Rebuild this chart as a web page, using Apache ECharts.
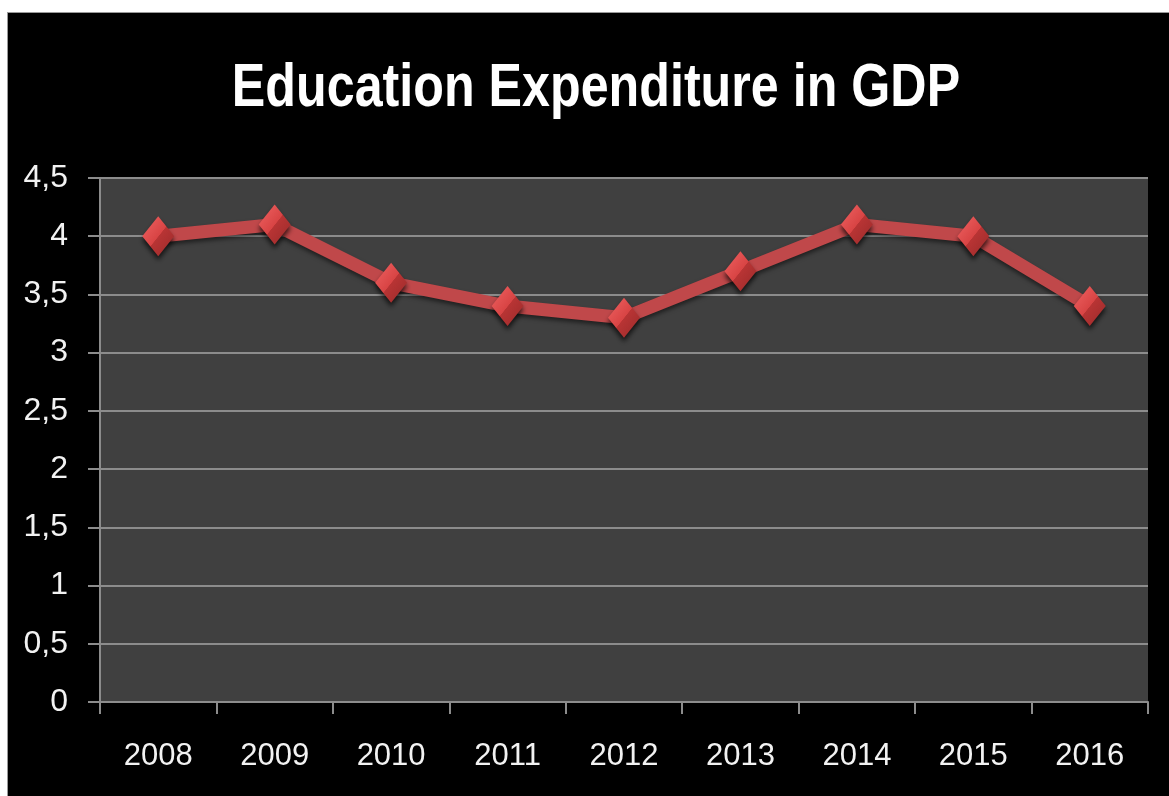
<!DOCTYPE html>
<html>
<head>
<meta charset="utf-8">
<script src="https://cdn.jsdelivr.net/npm/echarts@6/dist/echarts.min.js"></script>
<style>
  html, body { margin: 0; padding: 0; background: #ffffff; }
  #chart {
    position: absolute; left: 7px; top: 12px;
    width: 1162px; height: 784px;
    background: #000000;
    border-left: 1px solid #9a9a9a; border-top: 1px solid #9a9a9a;
  }
</style>
</head>
<body>
<div id="chart"></div>
<script>
// Education expenditure as share of GDP, by year
const years = ['2008', '2009', '2010', '2011', '2012', '2013', '2014', '2015', '2016'];
const expenditure = [4.0, 4.1, 3.6, 3.4, 3.3, 3.7, 4.1, 4.0, 3.4];
const chartTitle = 'Education Expenditure in GDP';

const FONT = '"Liberation Sans", sans-serif';
const chart = echarts.init(document.getElementById('chart'), null, { renderer: 'canvas' });

chart.setOption({
  backgroundColor: '#000000',
  animation: false,
  // condensed bold heading, squeezed horizontally
  graphic: [{
    type: 'text',
    x: 588, y: 76,
    scaleX: 0.81,
    style: {
      text: chartTitle,
      fill: '#ffffff',
      font: 'bold 62px ' + FONT,
      align: 'center',
      verticalAlign: 'middle'
    }
  }],
  grid: { left: 92, top: 165, width: 1048, height: 524, show: true, backgroundColor: '#404040', borderWidth: 0 },
  xAxis: {
    type: 'category',
    data: years,
    boundaryGap: true,
    axisLine: { show: true, lineStyle: { color: '#8c8c8c', width: 2 } },
    axisTick: { show: true, length: 12, lineStyle: { color: '#8c8c8c', width: 2 } },
    axisLabel: { color: '#f2f2f2', fontFamily: FONT, fontSize: 31, margin: 39 },
    splitLine: { show: false }
  },
  yAxis: {
    type: 'value',
    min: 0, max: 4.5, interval: 0.5,
    axisLine: { show: true, lineStyle: { color: '#8c8c8c', width: 2 } },
    axisTick: { show: true, length: 12, lineStyle: { color: '#8c8c8c', width: 2 } },
    axisLabel: {
      color: '#f2f2f2', fontFamily: FONT, fontSize: 32, margin: 32,
      formatter: v => String(v).replace('.', ',')
    },
    splitLine: { show: true, lineStyle: { color: '#8c8c8c', width: 2 } }
  },
  series: [{
    type: 'line',
    data: expenditure,
    lineStyle: { color: '#c0484a', width: 13, shadowColor: 'rgba(0,0,0,0.5)', shadowBlur: 4, shadowOffsetY: 3 },
    symbol: 'diamond',
    symbolSize: [32, 40],
    itemStyle: {
      color: new echarts.graphic.LinearGradient(0, 0, 1, 1, [
        { offset: 0, color: '#f06363' },
        { offset: 0.5, color: '#d84444' },
        { offset: 0.51, color: '#b83434' },
        { offset: 1, color: '#9a2a2a' }
      ]),
      shadowColor: 'rgba(0,0,0,0.7)', shadowBlur: 5, shadowOffsetY: 4
    },
    z: 3
  }]
});
</script>
</body>
</html>
